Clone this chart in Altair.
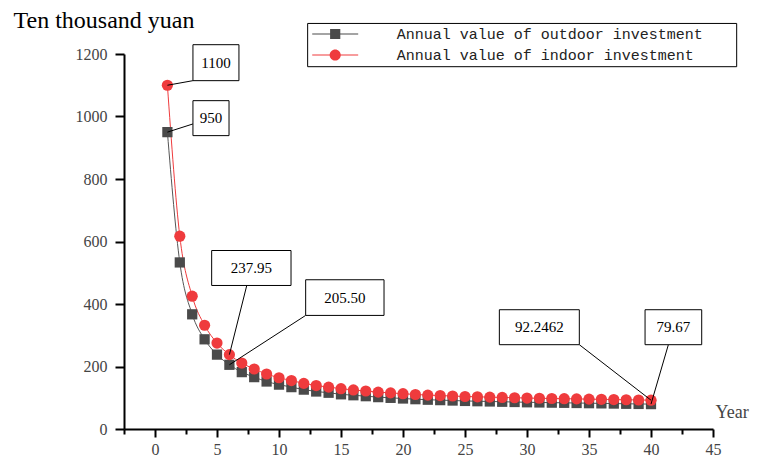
import altair as alt
import pandas as pd

# ---------------- data ----------------
years = [1, 2, 3, 4, 5, 6, 7, 8, 9, 10, 11, 12, 13, 14, 15, 16, 17, 18, 19, 20,
         21, 22, 23, 24, 25, 26, 27, 28, 29, 30, 31, 32, 33, 34, 35, 36, 37, 38, 39, 40]
outdoor = [950, 533, 367, 287, 238, 205.5, 182, 166, 152, 142,
           134, 126, 120, 116, 111, 108, 105, 102, 99.7, 97.6,
           95.4, 93.7, 92.4, 91.1, 89.8, 88.9, 88.1, 87.2, 86.4, 85.5,
           84.9, 84.3, 83.8, 83.2, 82.6, 82.0, 81.4, 80.7, 80.2, 79.67]
indoor = [1100, 617, 425, 332, 275, 237.95, 211, 192, 176, 164,
          155, 146, 139, 134, 129, 125, 121.5, 118, 115.5, 113,
          110.5, 108.5, 107, 105.5, 104, 103, 102, 101, 100, 99,
          98.3, 97.6, 97, 96.3, 95.6, 95, 94.2, 93.5, 92.9, 92.2462]
series_names = ["Annual value of outdoor investment",
                "Annual value of indoor investment"]

ann_labels = ["1100", "950", "237.95", "205.50", "92.2462", "79.67"]
ann_year = [1, 1, 6, 6, 40, 40]
ann_value = [indoor[0], outdoor[0], indoor[5], outdoor[5], indoor[39], outdoor[39]]

x_major = [0, 5, 10, 15, 20, 25, 30, 35, 40, 45]
x_minor = [-2.5, 2.5, 7.5, 12.5, 17.5, 22.5, 27.5, 32.5, 37.5, 42.5]
y_ticks = [0, 100, 200, 300, 400, 500, 600, 700, 800, 900, 1000, 1100, 1200]

# ---------------- annotation / legend-frame layout (in data units) ----------------
box_x = [3.06, 3.06, 4.57, 12.15, 27.77, 39.52]
box_x2 = [6.77, 5.97, 10.97, 18.47, 34.22, 44.09]
box_y = [1229.8, 1050.7, 571.2, 477.6, 381.7, 381.7]
box_y2 = [1114.7, 938.8, 459.3, 363.5, 269.8, 269.8]
lead_x = [3.06, 3.06, 7.40, 12.15, 34.22, 41.4]
lead_y = [1114.7, 976.2, 459.3, 363.5, 269.8, 269.8]
legend_frame = {"bx": [12.31], "bx2": [46.91], "by": [1297.8], "by2": [1159.4]}

SERIF = "Liberation Serif"
GRAY = "#4a4a4a"
RED = "#ef3b3d"

df_out = pd.DataFrame({"year": years, "value": outdoor})
df_in = pd.DataFrame({"year": years, "value": indoor})
df_leg = pd.DataFrame({"series": series_names})
df_ann = pd.DataFrame({
    "label": ann_labels, "year": ann_year, "value": ann_value,
    "bx": box_x, "bx2": box_x2, "by": box_y, "by2": box_y2,
    "lx": lead_x, "ly": lead_y,
})
df_ann["tx"] = (df_ann["bx"] + df_ann["bx2"]) / 2
df_ann["ty"] = (df_ann["by"] + df_ann["by2"]) / 2
df_frame = pd.DataFrame(legend_frame)

x_scale = alt.Scale(domain=[-2.5, 45], nice=False, zero=False)
y_scale = alt.Scale(domain=[0, 1200], nice=False)

x_axis_major = alt.Axis(
    values=x_major, orient="bottom", tickSize=8,
    title="Year", titleAngle=0, titleAlign="left", titleBaseline="alphabetic",
    titleX=591, titleY=-12, titleFont=SERIF, titleFontSize=18,
    titleFontWeight="normal", titleColor="#444",
    labelFont=SERIF, labelFontSize=16, labelColor="#444", labelPadding=4,
    labelFlush=False, labelOverlap=False, format="d",
    domainColor="black", domainWidth=2, tickColor="black", tickWidth=2, grid=False,
)
x_axis_minor = alt.Axis(
    values=x_minor, orient="bottom", tickSize=5, labels=False, domain=False,
    title=None, tickColor="black", tickWidth=2, grid=False,
)
y_axis = alt.Axis(
    values=y_ticks, format="d",
    labelExpr="datum.value % 200 === 0 ? datum.label : ''",
    tickSize={"condition": {"test": "datum.value % 200 === 0", "value": 9}, "value": 5},
    title="Ten thousand yuan", titleAngle=0, titleAlign="left",
    titleBaseline="alphabetic", titleX=-111, titleY=-27, titleFont=SERIF,
    titleFontSize=24, titleFontWeight="normal", titleColor="black",
    labelFont=SERIF, labelFontSize=16, labelColor="#444", labelPadding=8,
    labelFlush=False, labelOverlap=False,
    domainColor="black", domainWidth=2, tickColor="black", tickWidth=2, grid=False,
)

Y = alt.Y("value:Q", scale=y_scale, axis=y_axis)
XN = alt.X("year:Q", scale=x_scale, axis=None)

line_out = alt.Chart(df_out).mark_line(color="#555555", strokeWidth=1,
                                       interpolate="monotone").encode(
    x=alt.X("year:Q", scale=x_scale, axis=x_axis_major), y=Y)
pts_out = alt.Chart(df_out).mark_point(shape="square", filled=True, opacity=1,
                                       color=GRAY, size=105).encode(
    x=alt.X("year:Q", scale=x_scale, axis=x_axis_minor), y=Y)
line_in = alt.Chart(df_in).mark_line(color=RED, strokeWidth=1,
                                     interpolate="monotone").encode(x=XN, y=Y)
pts_in = alt.Chart(df_in).mark_point(shape="circle", filled=True, opacity=1,
                                     color=RED, size=125).encode(x=XN, y=Y)

# legend symbols: a short line with the marker in its middle (unit = 6 px)
sq_path = "M-3.83,-0.09H3.83V0.09H-3.83Z M-0.85,-0.85H0.85V0.85H-0.85Z"
ci_path = ("M-3.83,-0.09H3.83V0.09H-3.83Z M-0.93,0A0.93,0.93 0 1,1 0.93,0"
           "A0.93,0.93 0 1,1 -0.93,0Z")

legend = alt.Legend(
    title=None, orient="none", legendX=186.7, legendY=-27.5, direction="vertical",
    padding=0, symbolSize=144, symbolOffset=17,
    symbolStrokeWidth=0, labelOffset=54, labelFont="Liberation Mono",
    labelFontSize=15, labelColor="#222", rowPadding=5, labelLimit=0,
)
leg_layer = alt.Chart(df_leg).transform_filter("false").mark_point(
    filled=True, opacity=1).encode(
    color=alt.Color("series:N", scale=alt.Scale(domain=series_names, range=[GRAY, RED]),
                    legend=legend),
    shape=alt.Shape("series:N", scale=alt.Scale(domain=series_names, range=[sq_path, ci_path]),
                    legend=legend),
)
frame = alt.Chart(df_frame).mark_rect(fill="white", stroke="black", strokeWidth=1).encode(
    x=alt.X("bx:Q", scale=x_scale, axis=None), x2="bx2:Q",
    y=alt.Y("by:Q", scale=y_scale), y2="by2:Q")

leaders = alt.Chart(df_ann).mark_rule(color="black", strokeWidth=1).encode(
    x=XN, y=alt.Y("value:Q", scale=y_scale), x2="lx:Q", y2="ly:Q")
boxes = alt.Chart(df_ann).mark_rect(fill="white", stroke="black", strokeWidth=1).encode(
    x=alt.X("bx:Q", scale=x_scale, axis=None), x2="bx2:Q",
    y=alt.Y("by:Q", scale=y_scale), y2="by2:Q")
texts = alt.Chart(df_ann).mark_text(font=SERIF, fontSize=15, color="black",
                                    align="center", baseline="middle").encode(
    x=alt.X("tx:Q", scale=x_scale, axis=None), y=alt.Y("ty:Q", scale=y_scale),
    text="label:N")

chart = alt.layer(
    line_out, line_in, pts_out, pts_in, frame, leg_layer, leaders, boxes, texts
).resolve_axis(x="independent").properties(
    width=589, height=375,
    autosize=alt.AutoSizeParams(type="none"),
    padding={"left": 116, "top": 46, "right": 37, "bottom": 30},
).configure_view(stroke=None)

chart.save("out.html", embed_options={"renderer": "svg", "actions": False})
